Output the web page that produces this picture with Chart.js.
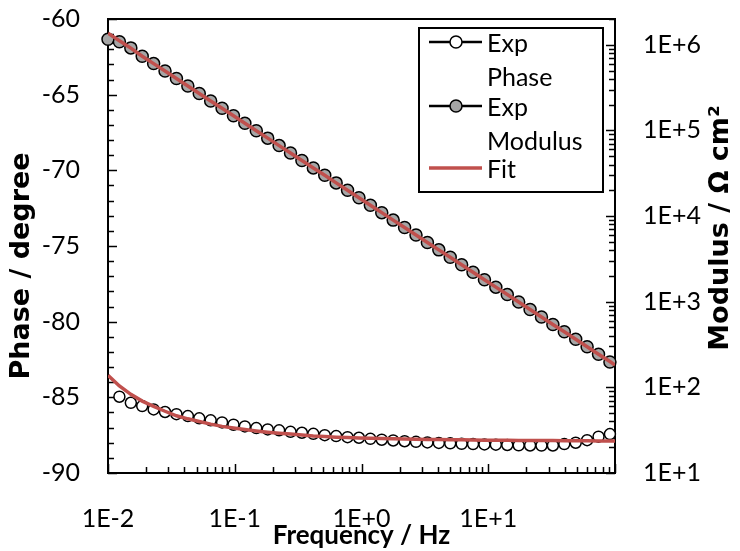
<!DOCTYPE html>
<html>
<head>
<meta charset="utf-8">
<script src="https://cdn.jsdelivr.net/npm/chart.js"></script>
<style>
  html, body { margin: 0; padding: 0; background: #fff; }
  #wrap { position: relative; width: 740px; height: 551px; }
  #legend {
    position: absolute; left: 418px; top: 27px; width: 186px; height: 166px;
    border: 2px solid #000; box-sizing: border-box; background: #fff;
    font: 25px Lato, sans-serif; color: #000;
  }
  .entry { position: absolute; left: 0; width: 100%; height: 68px; }
  .entry svg { position: absolute; left: 0; top: 0; }
  .entry .txt { position: absolute; left: 67px; top: 0; line-height: 34px; white-space: nowrap; }
</style>
</head>
<body>
<div id="wrap">
  <canvas id="chart"></canvas>
  <div id="legend"></div>
</div>
<script>
// measured frequencies (Hz)
const frequency = [0.01, 0.0123, 0.01514, 0.01862, 0.02291, 0.02818, 0.03467, 0.04266, 0.05248, 0.06457,
  0.07943, 0.09772, 0.1202, 0.1479, 0.182, 0.2239, 0.2754, 0.3388, 0.4169, 0.5129,
  0.631, 0.7762, 0.955, 1.175, 1.445, 1.778, 2.188, 2.692, 3.311, 4.074,
  5.012, 6.166, 7.586, 9.333, 11.48, 14.13, 17.38, 21.38, 26.3, 32.36,
  39.81, 48.98, 60.26, 74.13, 91.2];
const phaseExp = [null, -84.96, -85.36, -85.58, -85.8, -85.97, -86.11, -86.24, -86.39, -86.52,
  -86.66, -86.81, -86.92, -87.03, -87.12, -87.18, -87.28, -87.34, -87.41, -87.5,
  -87.56, -87.63, -87.67, -87.74, -87.8, -87.85, -87.9, -87.94, -87.98, -88.01,
  -88.04, -88.07, -88.09, -88.11, -88.13, -88.15, -88.17, -88.18, -88.19, -88.18,
  -88.09, -88.0, -87.83, -87.6, -87.43];
const modulusExp = [1159000, 1086000, 920000, 736000, 603000, 493000, 404000, 330000, 270000, 221000,
  181100, 148300, 121300, 99300, 81300, 66500, 54500, 44600, 36500, 29900,
  24400, 20000, 16370, 13400, 10960, 8970, 7350, 6010, 4920, 4030,
  3300, 2700, 2210, 1807, 1479, 1211, 991, 811, 664, 543,
  445, 364, 298, 244, 198];

// fitted curve
const frequencyFit = [0.01, 0.0123, 0.01514, 0.01862, 0.02291, 0.02818, 0.03467, 0.04266, 0.05248, 0.06457,
  0.07943, 0.09772, 0.1202, 0.1479, 0.182, 0.2239, 0.2754, 0.3388, 0.4169, 0.5129,
  0.631, 0.7762, 0.955, 1.175, 1.445, 1.778, 2.188, 2.692, 3.311, 4.074,
  5.012, 6.166, 7.586, 9.333, 11.48, 14.13, 17.38, 21.38, 26.3, 32.36,
  39.81, 48.98, 60.26, 74.13, 91.2, 100];
const phaseFit = [-83.55, -84.25, -84.8, -85.25, -85.6, -85.92, -86.22, -86.42, -86.6, -86.77,
  -86.92, -87.03, -87.13, -87.22, -87.3, -87.37, -87.43, -87.49, -87.55, -87.59,
  -87.63, -87.66, -87.68, -87.7, -87.72, -87.74, -87.76, -87.77, -87.78, -87.79,
  -87.8, -87.81, -87.82, -87.83, -87.84, -87.84, -87.85, -87.85, -87.86, -87.86,
  -87.87, -87.87, -87.87, -87.88, -87.88, -87.88];
const modulusFit = [1365000, 1117000, 914000, 736000, 603000, 493000, 404000, 330000, 270000, 221000,
  181100, 148300, 121300, 99300, 81300, 66500, 54500, 44600, 36500, 29900,
  24400, 20000, 16370, 13400, 10960, 8970, 7350, 6010, 4920, 4030,
  3300, 2700, 2210, 1807, 1479, 1211, 991, 811, 664, 543,
  445, 364, 298, 244, 200, 182];

// axes
const xMajorTicks = [0.01, 0.1, 1, 10, 100];
const xTickLabels = ['1E-2', '1E-1', '1E+0', '1E+1', ''];
const phaseMajorTicks = [-90, -85, -80, -75, -70, -65, -60];
const modulusMajorTicks = [10, 100, 1000, 10000, 100000, 1000000];
const modulusTickLabels = ['1E+1', '1E+2', '1E+3', '1E+4', '1E+5', '1E+6'];
const phaseTitle = 'Phase / degree';
const modulusTitle = 'Modulus / Ω cm²';

const RED = '#c0504d';

function logTicks(majors, max) {
  const out = [];
  majors.forEach((m) => {
    out.push({ value: m, major: true });
    for (let k = 2; k <= 9; k++) {
      if (m * k <= max) out.push({ value: m * k, major: false });
    }
  });
  return out.filter((t) => t.value <= max);
}

const pts = (xs, ys) => xs.map((x, i) => ({ x, y: ys[i] }));

// inward tick marks + plot frame
const frameTicks = {
  id: 'frameTicks',
  beforeDatasetsDraw(chart) {
    const { ctx, chartArea: a, scales } = chart;
    ctx.save();
    ctx.strokeStyle = '#000';
    ctx.lineWidth = 1.5;
    ctx.beginPath();
    scales.x.ticks.forEach((t) => {
      const p = Math.round(scales.x.getPixelForValue(t.value)) + 0.5;
      ctx.moveTo(p, a.bottom);
      ctx.lineTo(p, a.bottom - (t.major ? 9 : 6));
    });
    scales.y.ticks.forEach((t) => {
      const p = Math.round(scales.y.getPixelForValue(t.value)) + 0.5;
      ctx.moveTo(a.left, p);
      ctx.lineTo(a.left + (t.major ? 9 : 6), p);
    });
    scales.y2.ticks.forEach((t) => {
      const p = Math.round(scales.y2.getPixelForValue(t.value)) + 0.5;
      ctx.moveTo(a.right, p);
      ctx.lineTo(a.right - (t.major ? 9 : 6), p);
    });
    ctx.stroke();
    ctx.lineWidth = 2;
    ctx.strokeRect(a.left, a.top, a.right - a.left, a.bottom - a.top);
    ctx.restore();
  },
  // both vertical axis titles read bottom-to-top
  afterDraw(chart) {
    const { ctx } = chart;
    const draw = (text, x, y) => {
      ctx.save();
      ctx.translate(x, y);
      ctx.rotate(-Math.PI / 2);
      ctx.font = 'bold 27px "DejaVu Sans"';
      ctx.fillStyle = '#000';
      ctx.textAlign = 'center';
      ctx.textBaseline = 'middle';
      ctx.fillText(text, 0, 0);
      ctx.restore();
    };
    draw(phaseTitle, 22, 266);
    draw(modulusTitle, 721, 228);
  },
};

Chart.defaults.font.family = 'Lato';
Chart.defaults.color = '#000';

const noVPad = (s, w) => { s.width = w; s.paddingTop = 0; s.paddingBottom = 0; };

const chart = new Chart(document.getElementById('chart'), {
  type: 'scatter',
  data: {
    datasets: [
      {
        label: 'Fit', inLegend: true, legendColor: RED,
        data: pts(frequencyFit, phaseFit), yAxisID: 'y',
        showLine: true, borderColor: RED, borderWidth: 3.5, pointRadius: 0, order: 0,
      },
      {
        label: 'Fit',
        data: pts(frequencyFit, modulusFit), yAxisID: 'y2',
        showLine: true, borderColor: RED, borderWidth: 3.5, pointRadius: 0, order: 0,
      },
      {
        label: 'Exp Phase', inLegend: true, legendColor: '#000',
        data: pts(frequency, phaseExp), yAxisID: 'y',
        showLine: false, pointRadius: 5.5, pointBackgroundColor: '#ffffff',
        pointBorderColor: '#000', pointBorderWidth: 1.5, clip: false, order: 1,
      },
      {
        label: 'Exp Modulus', inLegend: true, legendColor: '#000',
        data: pts(frequency, modulusExp), yAxisID: 'y2',
        showLine: false, pointRadius: 6, pointBackgroundColor: '#a6a6a6',
        pointBorderColor: '#000', pointBorderWidth: 1.5, clip: false, order: 1,
      },
    ],
  },
  options: {
    responsive: true,
    maintainAspectRatio: false,
    animation: false,
    events: [],
    layout: { padding: { top: 19, left: 0, right: 0, bottom: 0 } },
    plugins: { legend: { display: false }, tooltip: { enabled: false } },
    scales: {
      x: {
        type: 'logarithmic', position: 'bottom', min: 0.01, max: 100,
        grid: { display: false, drawTicks: false },
        border: { display: false },
        afterBuildTicks: (s) => { s.ticks = logTicks(xMajorTicks, 100); },
        afterFit: (s) => { s.height = 78; s.paddingLeft = 0; s.paddingRight = 0; },
        ticks: {
          autoSkip: false, maxRotation: 0, padding: 31,
          font: { size: 25 },
          callback: (v) => {
            const i = xMajorTicks.indexOf(v);
            return i >= 0 ? xTickLabels[i] : '';
          },
        },
        title: {
          display: true, text: 'Frequency / Hz',
          font: { family: 'Lato', size: 26, weight: 'bold' }, padding: 0,
        },
      },
      y: {
        type: 'linear', position: 'left', min: -90, max: -60,
        grid: { display: false, drawTicks: false },
        border: { display: false },
        afterBuildTicks: (s) => {
          const out = [];
          for (let v = -90; v <= -60; v++) out.push({ value: v, major: phaseMajorTicks.includes(v) });
          s.ticks = out;
        },
        afterFit: (s) => noVPad(s, 108),
        ticks: {
          autoSkip: false, padding: 28, font: { size: 25 },
          callback: (v) => (phaseMajorTicks.includes(v) ? String(v) : ''),
        },
        title: { display: false },
      },
      y2: {
        type: 'logarithmic', position: 'right', min: 10, max: 2000000,
        grid: { display: false, drawTicks: false },
        border: { display: false },
        afterBuildTicks: (s) => { s.ticks = logTicks(modulusMajorTicks, 2000000); },
        afterFit: (s) => noVPad(s, 125),
        ticks: {
          autoSkip: false, padding: 28, font: { size: 25 },
          callback: (v) => {
            const i = modulusMajorTicks.indexOf(v);
            return i >= 0 ? modulusTickLabels[i] : '';
          },
        },
        title: { display: false },
      },
    },
  },
  plugins: [frameTicks],
});

// legend in the upper right of the plot
const legendEl = document.getElementById('legend');
const entryTops = [-4, 60, 122];
const legendOrder = ['Exp Phase', 'Exp Modulus', 'Fit'];
legendOrder
  .map((name) => chart.data.datasets.find((d) => d.inLegend && d.label === name))
  .forEach((d, i) => {
    const row = document.createElement('div');
    row.className = 'entry';
    row.style.top = entryTops[i] + 'px';
    const circle = d.showLine ? '' :
      `<circle cx="36" cy="17" r="6" fill="${d.pointBackgroundColor}" stroke="#000" stroke-width="1.5"/>`;
    const w = d.showLine ? 3.5 : 2.5;
    row.innerHTML = `<svg width="66" height="34"><line x1="9" y1="17" x2="62" y2="17" stroke="${d.legendColor}" stroke-width="${w}"/>${circle}</svg>`
      + `<div class="txt">${d.label.split(' ').join('<br>')}</div>`;
    legendEl.appendChild(row);
  });
</script>
</body>
</html>
